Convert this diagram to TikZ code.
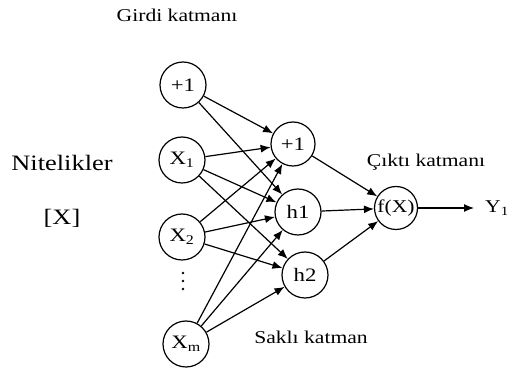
\documentclass[tikz,border=0pt]{standalone}
\usepackage{fontspec}
\setmainfont[FakeStretch=1.2]{Liberation Serif}
\usetikzlibrary{arrows.meta}

\begin{document}
\begin{tikzpicture}[x=1pt,y=-1pt,
  neuron/.style={circle,draw,line width=1.2pt,minimum size=46pt,inner sep=0pt,font=\fontsize{19}{19}\selectfont},
  conn/.style={line width=1.2pt,-{Latex[length=10pt,width=8pt]}},
  lbl/.style={font=\fontsize{18}{18}\selectfont,inner sep=0pt},
  biglbl/.style={font=\fontsize{22}{22}\selectfont,inner sep=0pt}]
\useasboundingbox (0,0) rectangle (507,371);

% input layer
\node[neuron] (in0) at (183,85) {+1};
\node[neuron] (x1) at (182,160) {X\textsubscript{1}};
\node[neuron] (x2) at (182,237) {X\textsubscript{2}};
\node[neuron] (xm) at (186,344) {X\textsubscript{m}};
\fill (183,273) circle (1.4pt) (183,281) circle (1.4pt) (183,289) circle (1.4pt);

% hidden layer
\node[neuron,minimum size=44pt] (hb) at (293,144) {+1};
\node[neuron] (h1) at (298,212) {h1};
\node[neuron] (h2) at (305,275) {h2};

% output
\node[neuron,minimum size=43pt,font=\fontsize{18}{18}\selectfont] (out) at (396,208) {f(X)};
\node[anchor=west,inner sep=0pt,font=\fontsize{18}{18}\selectfont] (y1) at (485,208) {Y\textsubscript{1}};

% labels
\node[lbl] (girdi) at (177,15) {Girdi katmanı};
\node[biglbl] (nit) at (62,163) {Nitelikler};
\node[biglbl] (xvec) at (62,218) {[X]};
\node[lbl] (cikti) at (426,162) {Çıktı katmanı};
\node[lbl] (sakli) at (311,337) {Saklı katman};

% connections
\draw[conn] (in0) -- (hb);
\draw[conn] (in0) -- (h1);
\foreach \s in {x1,x2,xm}{
  \draw[conn] (\s) -- (hb);
  \draw[conn] (\s) -- (h1);
  \draw[conn] (\s) -- (h2);
}
\draw[conn] (hb) -- (out);
\draw[conn] (h1) -- (out);
\draw[conn] (h2) -- (out);
\draw[conn,shorten >=11pt] (out) -- (y1);
\end{tikzpicture}
\end{document}
